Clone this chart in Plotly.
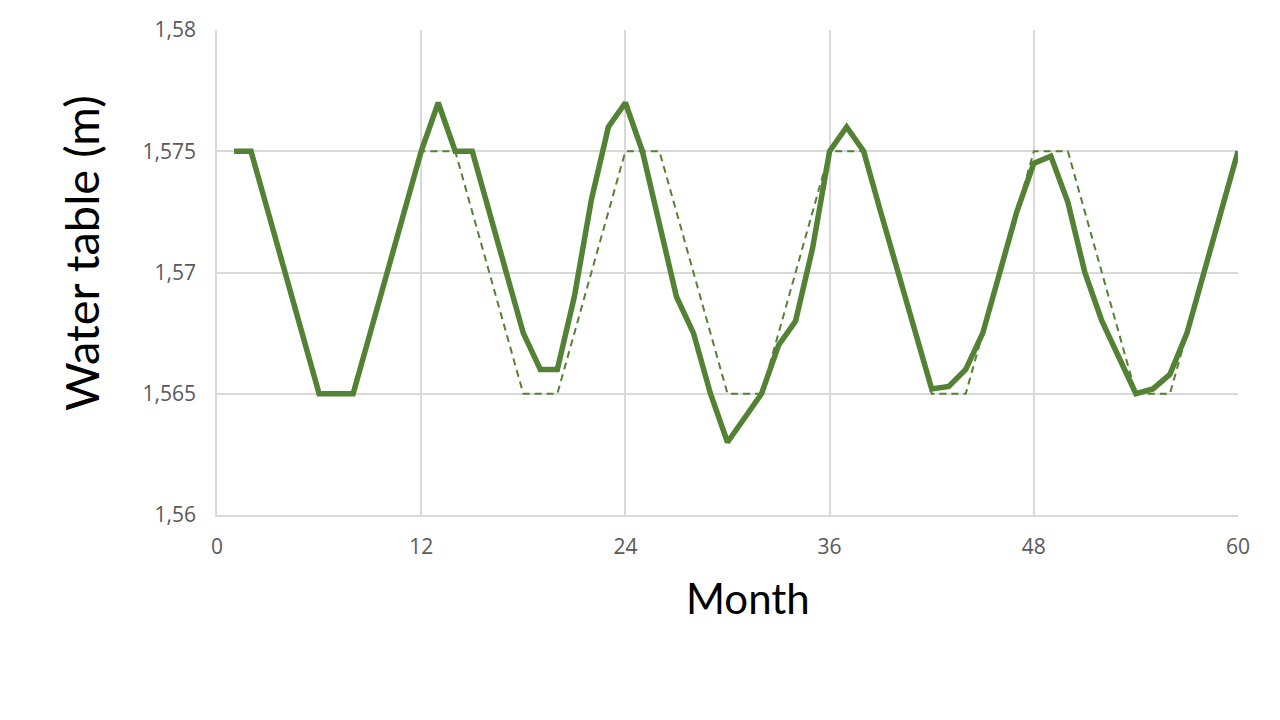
import plotly.graph_objects as go

months = list(range(1, 61))

water_table = [
    1.575, 1.575, 1.5725, 1.570, 1.5675, 1.565, 1.565, 1.565, 1.5675, 1.570, 1.5725, 1.575,
    1.577, 1.575, 1.575, 1.5725, 1.570, 1.5675, 1.566, 1.566, 1.569, 1.573, 1.576, 1.577,
    1.575, 1.572, 1.569, 1.5675, 1.565, 1.563, 1.564, 1.565, 1.567, 1.568, 1.571, 1.575,
    1.576, 1.575, 1.5725, 1.570, 1.5675, 1.5652, 1.5653, 1.566, 1.5675, 1.570, 1.5725, 1.5745,
    1.5748, 1.5729, 1.570, 1.568, 1.5665, 1.565, 1.5652, 1.5658, 1.5675, 1.570, 1.5725, 1.575,
]

reference_table = [
    1.575, 1.575, 1.5725, 1.570, 1.5675, 1.565, 1.565, 1.565, 1.5675, 1.570, 1.5725, 1.575,
    1.575, 1.575, 1.5725, 1.570, 1.5675, 1.565, 1.565, 1.565, 1.5675, 1.570, 1.5725, 1.575,
    1.575, 1.575, 1.5725, 1.570, 1.5675, 1.565, 1.565, 1.565, 1.5675, 1.570, 1.5725, 1.575,
    1.575, 1.575, 1.5725, 1.570, 1.5675, 1.565, 1.565, 1.565, 1.5675, 1.570, 1.5725, 1.575,
    1.575, 1.575, 1.5725, 1.570, 1.5675, 1.565, 1.565, 1.565, 1.5675, 1.570, 1.5725, 1.575,
]

x_tick_vals = [0, 12, 24, 36, 48, 60]
y_tick_vals = [1.56, 1.565, 1.57, 1.575, 1.58]
y_tick_text = ["1,56", "1,565", "1,57", "1,575", "1,58"]

GREEN = "#548235"
GRID = "#d9d9d9"
TITLE_FONT = "Lato"
TICK_FONT = "Open Sans"

fig = go.Figure()
fig.add_trace(go.Scatter(
    x=months, y=reference_table, mode="lines",
    line=dict(color=GREEN, width=2, dash="7px,5px"),
    hoverinfo="skip",
))
fig.add_trace(go.Scatter(
    x=months, y=water_table, mode="lines",
    line=dict(color=GREEN, width=5.5),
))

fig.update_layout(
    width=1280, height=720,
    margin=dict(l=209, r=50, t=22, b=213, autoexpand=False),
    paper_bgcolor="white", plot_bgcolor="white",
    showlegend=False,
    font=dict(family=TICK_FONT, color="#595959"),
    xaxis=dict(
        range=[0, 60], tickvals=x_tick_vals, automargin=False,
        showgrid=True, gridcolor=GRID, gridwidth=1.5,
        showline=True, linecolor=GRID, linewidth=1.5,
        zeroline=False, ticks="", ticklabelstandoff=12,
        tickfont=dict(family=TICK_FONT, size=21, color="#595959"),
    ),
    yaxis=dict(
        range=[1.56, 1.58], tickvals=y_tick_vals, ticktext=y_tick_text, automargin=False,
        showgrid=True, gridcolor=GRID, gridwidth=1.5,
        showline=True, linecolor=GRID, linewidth=1.5,
        zeroline=False, ticks="", ticklabelstandoff=15,
        tickfont=dict(family=TICK_FONT, size=21, color="#595959"),
    ),
    annotations=[
        dict(text="Month", xref="paper", yref="paper", x=0.520, y=-0.171,
             xanchor="center", yanchor="middle", showarrow=False,
             font=dict(family=TITLE_FONT, size=42, color="black")),
        dict(text="Water table (m)", xref="paper", yref="paper", x=-0.1332, y=0.540,
             xanchor="center", yanchor="middle", showarrow=False, textangle=-90,
             font=dict(family=TITLE_FONT, size=47, color="black")),
    ],
)

fig.write_html("out.html")
